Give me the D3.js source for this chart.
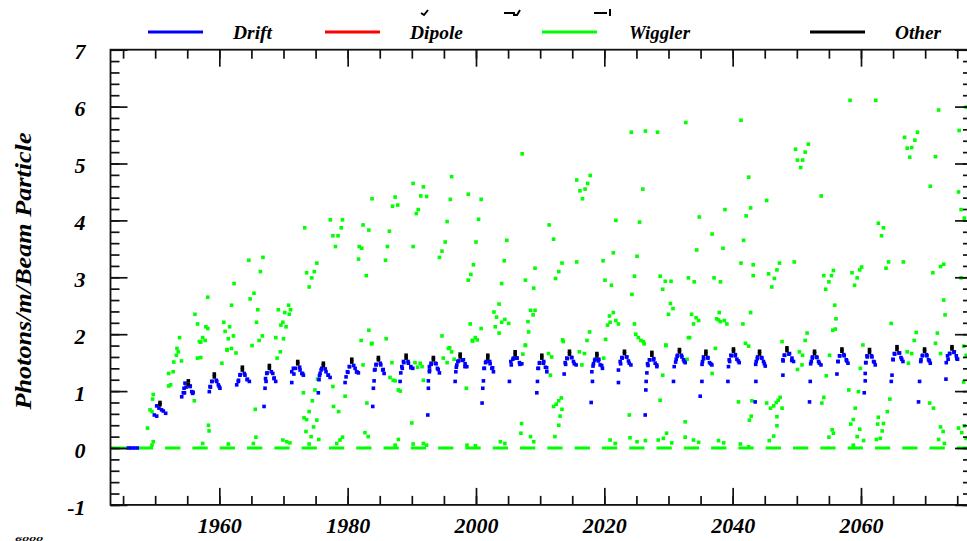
<!DOCTYPE html>
<html><head><meta charset="utf-8">
<script src="https://cdn.jsdelivr.net/npm/d3@7/dist/d3.min.js"></script>
<style>
body{margin:0;background:#fff}
svg{display:block}
text{font-family:"Liberation Serif","Times New Roman",serif;font-weight:bold;font-style:italic;fill:#000}
</style>
</head><body>
<svg id="c" width="967" height="541"></svg>
<script>
const seriesNames = ["Drift", "Dipole", "Wiggler", "Other"];
const seriesColors = ["#0000ff", "#ff0000", "#00ff00", "#000000"];
const xMajorTicks = [1960, 1980, 2000, 2020, 2040, 2060];
const yMajorTicks = [-1, 0, 1, 2, 3, 4, 5, 6, 7];
const yTitle = "Photons/m/Beam Particle";
const xDomain = [1943.04, 2077.3];
const yDomain = [-1, 7];

const dipolePts = [];

const driftPts = [
[1945.8,0],[1946.2,0],[1946.7,0],[1947.2,0],
[1950.24,0.74],[1950.6,0.70],[1951.0,0.67],[1951.27,0.65],[1951.64,0.61],[1949.87,0.58],[1950.24,0.56],
[1954.65,1.14],[1954.5,1.05],[1955.43,1.08],[1955.7,0.99],[1955.85,0.96],[1954.14,0.90],[1954.39,0.97],
[1958.82,1.17],[1959.6,1.17],[1959.84,1.11],[1960.1,1.05],[1958.55,1.08],[1958.44,0.99],
[1963.23,1.28],[1964.0,1.28],[1964.37,1.21],[1964.68,1.17],[1962.71,1.11],[1962.96,1.17],
[1967.39,1.31],[1968.33,1.31],[1968.53,1.22],[1968.79,1.17],[1967.28,1.17],[1967.12,1.05],[1966.97,0.73],
[1971.54,1.40],[1971.29,1.34],[1972.58,1.37],[1972.85,1.31],[1973.1,1.28],[1971.29,1.15],
[1975.96,1.40],[1975.7,1.31],[1976.63,1.34],[1976.99,1.28],[1977.26,1.24],[1975.54,1.20],[1975.43,0.97],
[1980.27,1.43],[1979.96,1.34],[1981.16,1.40],[1981.42,1.34],[1981.67,1.32],[1979.75,1.25],[1979.6,1.15],
[1984.43,1.46],[1984.27,1.38],[1985.16,1.46],[1985.47,1.37],[1985.68,1.31],[1984.12,1.18],[1984.01,1.05],[1983.91,0.73],
[1988.69,1.52],[1988.44,1.43],[1989.47,1.49],[1989.84,1.43],[1990.15,1.40],[1988.28,1.32],[1988.17,1.17],
[1993.0,1.49],[1992.74,1.43],[1993.78,1.48],[1993.99,1.40],[1994.3,1.32],[1992.74,1.34],[1992.58,1.18],[1992.58,1.05],[1992.49,0.58],
[1997.26,1.53],[1997.01,1.46],[1998.04,1.55],[1998.3,1.48],[1998.57,1.43],[1996.86,1.34],[1996.75,1.17],
[2001.58,1.52],[2001.31,1.40],[2002.2,1.48],[2002.47,1.40],[2002.72,1.34],[2001.16,1.18],[2001.06,1.05],[2000.95,0.79],
[2005.84,1.58],[2005.43,1.52],[2006.36,1.58],[2006.77,1.50],[2007.14,1.48],[2005.21,1.17],
[2009.89,1.49],[2009.73,1.40],[2010.51,1.49],[2010.82,1.42],[2011.04,1.34],[2009.58,1.17],[2009.48,0.97],
[2014.16,1.58],[2013.9,1.50],[2014.94,1.59],[2015.19,1.52],[2015.61,1.46],[2013.74,1.30],
[2018.57,1.56],[2018.31,1.48],[2019.09,1.53],[2019.35,1.46],[2019.71,1.40],[2018.06,1.34],[2018.15,1.17],[2017.95,0.80],
[2022.73,1.59],[2022.47,1.52],[2023.51,1.60],[2023.76,1.53],[2024.14,1.46],[2022.2,1.37],[2022.2,1.15],
[2027.04,1.55],[2026.73,1.48],[2027.66,1.55],[2027.93,1.49],[2028.19,1.43],[2026.63,1.32],[2026.52,1.17],[2026.47,1.02],[2026.37,0.58],
[2031.4,1.63],[2031.2,1.56],[2032.09,1.60],[2032.34,1.55],[2032.6,1.50],[2030.89,1.43],[2030.78,1.17],
[2035.46,1.60],[2035.3,1.52],[2036.14,1.58],[2036.39,1.50],[2036.76,1.46],[2035.21,1.17],[2034.94,0.91],
[2039.73,1.63],[2039.46,1.55],[2040.4,1.62],[2040.66,1.56],[2041.02,1.50],[2039.35,1.43],[2039.26,1.17],
[2043.88,1.60],[2043.67,1.52],[2044.56,1.58],[2044.81,1.52],[2045.08,1.44],[2043.62,1.17],[2043.51,0.81],
[2048.04,1.63],[2047.83,1.55],[2048.86,1.66],[2049.24,1.58],[2049.49,1.52],[2047.83,1.28],
[2052.45,1.60],[2052.25,1.52],[2053.13,1.59],[2053.38,1.52],[2053.76,1.46],[2052.09,1.17],[2051.98,0.81],
[2056.66,1.62],[2056.41,1.52],[2057.39,1.62],[2057.7,1.55],[2057.97,1.49],[2056.25,1.30],
[2060.93,1.62],[2060.77,1.50],[2061.71,1.60],[2061.96,1.52],[2062.22,1.46],[2060.66,1.31],[2060.66,1.18],[2060.51,0.97],
[2065.19,1.66],[2064.98,1.56],[2066.01,1.67],[2066.23,1.59],[2066.54,1.52],[2064.83,1.28],[2064.72,1.17],
[2069.6,1.63],[2069.35,1.55],[2070.28,1.62],[2070.53,1.55],[2070.8,1.49],[2069.13,1.17],[2068.97,0.81],
[2073.8,1.66],[2073.49,1.62],[2074.54,1.69],[2074.85,1.62],[2075.05,1.56],[2073.29,1.50],[2073.24,1.21],
[1954.82,1.07],[1955.47,1.09],[1955.92,0.98],[1954.57,0.97],
[1958.87,1.17],[1959.52,1.19],[1959.97,1.08],[1958.62,1.07],
[1963.24,1.29],[1963.89,1.31],[1964.34,1.20],[1962.99,1.19],
[1967.45,1.32],[1968.1,1.34],[1968.55,1.23],[1967.2,1.22],
[1971.87,1.40],[1972.52,1.42],[1972.97,1.31],[1971.62,1.30],
[1975.86,1.37],[1976.51,1.39],[1976.96,1.28],[1975.61,1.27],
[1980.29,1.43],[1980.94,1.45],[1981.39,1.34],[1980.04,1.33],
[1984.44,1.47],[1985.09,1.49],[1985.54,1.38],[1984.19,1.37],
[1988.76,1.50],[1989.41,1.52],[1989.86,1.41],[1988.51,1.40],
[1993.01,1.47],[1993.66,1.49],[1994.11,1.38],[1992.76,1.37],
[1997.18,1.52],[1997.83,1.54],[1998.28,1.43],[1996.93,1.42],
[2001.49,1.50],[2002.14,1.52],[2002.59,1.41],[2001.24,1.40],
[2005.75,1.56],[2006.4,1.58],[2006.85,1.47],[2005.5,1.46],
[2009.91,1.50],[2010.56,1.52],[2011.01,1.41],[2009.66,1.40],
[2014.22,1.57],[2014.87,1.59],[2015.32,1.48],[2013.97,1.47],
[2018.49,1.54],[2019.14,1.56],[2019.59,1.45],[2018.24,1.44],
[2022.79,1.58],[2023.44,1.60],[2023.89,1.49],[2022.54,1.48],
[2027.06,1.55],[2027.71,1.57],[2028.16,1.46],[2026.81,1.45],
[2031.36,1.61],[2032.01,1.63],[2032.46,1.52],[2031.11,1.51],
[2035.48,1.57],[2036.13,1.59],[2036.58,1.48],[2035.23,1.47],
[2039.78,1.62],[2040.43,1.64],[2040.88,1.53],[2039.53,1.52],
[2043.84,1.57],[2044.49,1.59],[2044.94,1.48],[2043.59,1.47],
[2048.11,1.63],[2048.76,1.65],[2049.21,1.54],[2047.86,1.53],
[2052.41,1.58],[2053.06,1.60],[2053.51,1.49],[2052.16,1.48],
[2056.68,1.62],[2057.33,1.64],[2057.78,1.53],[2056.43,1.52],
[2060.98,1.60],[2061.63,1.62],[2062.08,1.51],[2060.73,1.50],
[2065.26,1.65],[2065.91,1.67],[2066.36,1.56],[2065.01,1.55],
[2069.56,1.62],[2070.21,1.64],[2070.66,1.53],[2069.31,1.52],
[2073.83,1.66],[2074.48,1.68],[2074.93,1.57],[2073.58,1.56]
];

const otherPts = [
[1950.75,0.80],[1950.75,0.76],
[1955.17,1.18],[1955.17,1.12],
[1959.22,1.30],[1959.22,1.25],
[1963.59,1.42],[1963.59,1.37],
[1967.8,1.45],[1967.8,1.40],
[1972.22,1.52],[1972.22,1.48],
[1976.21,1.49],[1976.21,1.45],
[1980.64,1.56],[1980.64,1.51],
[1984.79,1.59],[1984.79,1.55],
[1989.11,1.63],[1989.11,1.58],
[1993.36,1.59],[1993.36,1.55],
[1997.53,1.65],[1997.53,1.60],
[2001.84,1.63],[2001.84,1.58],
[2006.1,1.69],[2006.1,1.64],
[2010.26,1.63],[2010.26,1.58],
[2014.57,1.70],[2014.57,1.65],
[2018.84,1.66],[2018.84,1.62],
[2023.14,1.70],[2023.14,1.66],
[2027.41,1.68],[2027.41,1.63],
[2031.71,1.73],[2031.71,1.69],
[2035.83,1.70],[2035.83,1.65],
[2040.13,1.74],[2040.13,1.70],
[2044.19,1.70],[2044.19,1.65],
[2048.46,1.76],[2048.46,1.71],
[2052.76,1.70],[2052.76,1.66],
[2057.03,1.74],[2057.03,1.70],
[2061.33,1.73],[2061.33,1.68],
[2065.61,1.78],[2065.61,1.73],
[2069.91,1.74],[2069.91,1.70],
[2074.18,1.78],[2074.18,1.74]
];

const wigglerPts = [
[1983.8,4.38],[1987.4,4.41],[1987.0,4.25],[1987.8,4.27],[1977.3,4.01],[1979.2,4.01],[1973.3,3.87],[1979.0,3.87],[1982.4,3.92],[1983.3,3.83],[1986.5,3.81],[1977.7,3.73],[1978.5,3.73],[1978.1,3.54],[1981.8,3.54],[1982.2,3.51],[1986.2,3.54],[1981.7,3.32],[1985.9,3.30],[1964.6,3.30],[1966.8,3.35],[1966.4,3.10],[1975.2,3.25],[1973.6,3.08],[1974.8,3.10],[1974.4,2.99],[1982.9,3.03],[1974.0,2.83],[1962.3,2.89],[1965.4,2.72],[1964.8,2.62],[1958.2,2.65],[1961.9,2.51],[1966.0,2.43],[1969.2,2.43],[1970.8,2.51],[1971.1,2.43],[1970.9,2.35],[1970.2,2.38],[1956.2,2.35],[1956.6,2.18],[1957.9,2.13],[1958.2,2.10],[1960.7,2.21],[1961.6,2.13],[1960.9,2.05],[1965.8,2.21],[1969.9,2.21],[1969.6,2.16],[1970.4,2.13],[1953.8,1.94],[1957.4,1.94],[1957.1,1.86],[1957.8,1.89],[1961.4,1.92],[1962.2,1.97],[1966.7,1.97],[1966.2,1.89],[1965.1,1.80],[1968.8,1.94],[1970.0,1.92],[1953.4,1.75],[1961.9,1.75],[1961.2,1.73],[1983.3,2.07],[1982.1,1.89],[1983.7,1.83],[1986.0,1.92],
[1953.6,1.69],[1953.3,1.63],[1952.9,1.51],[1954.1,1.53],[1952.1,1.31],[1952.8,1.34],[1952.4,1.11],[1952.1,1.09],[1949.7,0.94],[1949.6,0.86],[1949.2,0.67],[1949.5,0.64],[1948.8,0.35],[1949.7,0.11],[1949.5,0.05],[1956.1,0.83],[1958.3,0.40],[1958.4,0.30],[1957.4,0.08],[1956.9,1.87],[1956.6,1.58],[1957.1,1.59],[1960.4,1.49],[1961.2,1.72],[1962.6,1.67],[1961.4,0.07],[1965.6,0.68],[1965.7,0.19],[1965.3,0.08],[1969.0,1.58],[1969.5,1.69],[1969.9,0.14],[1970.5,0.11],[1971.0,0.09],[1973.1,0.97],[1974.9,1.02],[1974.5,0.83],[1974.0,0.64],[1973.2,0.53],[1973.6,0.50],[1975.2,0.49],[1974.7,0.37],[1973.5,0.29],[1974.3,0.20],[1975.5,0.15],[1974.0,0.07],[1975.3,1.21],[1977.7,1.08],[1977.8,0.73],[1978.6,0.64],[1979.6,0.91],[1978.3,0.08],[1978.8,0.14],[1979.2,0.19],
[1983.8,1.84],[1982.4,1.46],[1983.0,0.79],[1982.7,0.27],[1983.2,0.20],[1986.9,1.50],[1986.6,1.24],[1987.1,1.19],[1987.4,1.18],[1987.9,1.02],[1988.2,1.00],[1987.9,0.15],[1987.4,0.05],[1990.0,0.44],[1990.2,0.07],[1990.5,1.50],[1991.3,1.49],[1991.6,1.43],[1990.9,1.42],[1991.8,1.19],[1991.8,0.08],[1992.3,0.05],[1995.7,1.75],[1996.2,1.69],[1994.9,1.58],[1995.5,1.50],[1996.6,1.56],[1998.5,1.05],[1998.6,0.05],[1999.9,0.04],[1999.5,1.88],[2000.2,1.90],[2003.8,0.11],[2004.5,0.08],[2007.1,0.43],[2007.0,0.26],[2008.5,0.20],[2009.0,0.11],[2007.3,1.65],[2007.7,1.81],[2011.6,1.28],[2011.3,1.66],[2011.8,1.60],[2012.1,0.73],[2012.5,0.77],[2012.9,0.83],[2013.3,0.88],[2013.4,0.68],[2013.1,0.56],[2012.9,0.40],[2012.3,0.20],[2013.5,1.90],[2016.1,1.69],[2016.9,1.66],[2016.5,1.46],[2019.9,1.58],[2020.9,0.14],[2021.7,0.08],[2023.9,0.58],[2024.0,0.18],[2025.1,0.11],[2026.4,0.13],[2026.1,1.87],[2028.7,0.84],[2028.4,0.14],
[2033.9,2.18],[2037.8,2.25],[2039.1,2.18],[2041.6,2.18],[2033.3,1.94],[2029.6,1.81],[2032.9,1.56],[2037.3,1.75],[2029.1,1.28],[2036.8,1.31],[2032.6,0.46],[2032.6,0.19],[2029.7,0.26],[2029.2,0.17],[2030.5,0.09],[2033.9,0.14],[2034.7,0.10],[2037.8,0.13],[2038.6,0.09],[2040.9,0.81],[2043.0,0.83],[2042.9,0.56],[2042.6,0.49],[2041.2,0.07],[2042.5,0.02],[2042.0,1.84],[2042.5,1.79],[2047.7,1.87],[2045.3,0.79],[2045.9,0.70],[2046.4,0.74],[2046.8,0.80],[2047.1,0.84],[2047.4,0.89],[2047.7,0.70],[2046.9,0.55],[2046.9,0.39],[2046.4,0.21],[2045.7,0.13],[2051.3,1.89],[2051.6,2.02],[2050.4,1.69],[2050.9,1.63],[2050.8,1.46],[2050.1,1.38],[2055.1,1.63],[2056.0,2.09],[2054.6,1.27],[2054.2,0.89],[2053.9,0.79],[2055.5,0.32],[2055.7,0.26],[2055.0,0.19],[2058.1,1.02],[2059.6,0.99],[2060.3,1.81],[2059.9,1.40],[2059.1,0.70],[2058.8,0.50],[2058.4,0.42],[2059.8,0.33],[2059.4,0.20],[2060.4,0.13],[2058.8,0.05],[2062.7,0.54],[2064.1,0.64],[2064.5,0.86],[2062.6,0.42],[2063.5,0.43],[2063.3,0.30],[2062.4,0.15],[2063.0,0.17],[2064.7,2.19],[2067.2,1.69],[2067.9,1.66],[2067.4,1.49],[2068.6,2.03],[2071.6,1.84],[2071.9,2.02],[2072.4,1.66],[2070.7,0.79],[2071.3,0.70],[2072.4,0.37],[2072.8,0.29],[2072.1,0.15],[2073.0,0.08],[2076.4,1.63],[2076.0,1.16],[2075.2,0.35],[2076.1,0.39],[2076.4,0.17],[2075.7,0.27],
[1990.2,4.65],[1991.8,4.59],[1996.2,4.77],[1991.4,4.43],[1992.3,4.42],[1996.0,4.37],[1991.0,4.19],[1990.7,4.12],[1998.8,4.46],[2000.8,4.37],[2007.2,5.17],[1995.5,3.98],[2000.4,4.02],[1990.2,3.54],[1995.2,3.62],[1994.7,3.46],[1994.3,3.35],[2000.0,3.62],[2004.8,3.65],[2004.4,3.29],[1999.6,3.22],[1999.2,3.05],[1998.8,2.95],[2004.0,2.89],[2007.7,2.95],[2009.2,3.16],[2009.0,2.81],[2011.4,3.92],[2012.1,3.67],[2013.4,3.25],[2012.9,3.10],[2012.4,2.98],[2015.7,4.71],[2017.8,4.79],[2017.4,4.65],[2016.2,4.52],[2017.0,4.55],[2016.6,4.38],[2015.7,3.27],[2024.2,5.55],[2026.4,5.57],[2028.3,5.55],[2032.7,5.72],[2026.0,4.55],[2021.8,4.00],[2025.5,3.97],[2021.4,3.43],[2019.8,3.29],[2025.1,3.37],[2020.1,2.95],[2021.1,2.86],[2024.7,3.02],[2024.3,2.70],[2028.7,3.02],[2029.5,2.93],[2030.4,2.93],[2029.1,2.79],[2033.1,2.99],[2003.6,2.53],[2002.8,2.39],[2003.2,2.30],[2004.0,2.21],[2004.5,2.26],[2005.1,2.19],[2003.0,2.13],[2003.6,2.02],[1999.1,2.18],[2000.8,2.10],[1994.7,1.97],[1995.9,1.76],[1999.9,1.94],[1999.4,1.89],[2008.5,2.42],[2009.2,2.42],[2008.9,2.34],[2008.1,2.22],[2008.2,2.04],[2007.7,1.80],[2013.6,1.87],[2017.7,2.04],[2017.3,1.89],[2021.4,2.38],[2020.8,2.32],[2021.8,2.24],[2022.2,2.18],[2020.9,2.21],[2020.5,2.16],[2020.2,1.91],[2024.7,2.18],[2024.9,2.00],[2025.3,1.94],[2025.7,1.89],[2026.2,1.83],[2029.6,1.80],[2030.3,2.54],[2030.7,2.45],[2030.0,2.35],[2033.1,1.94],
[2041.3,5.76],[2058.3,6.11],[2062.3,6.11],[2072.1,5.94],[2076.4,5.99],[2075.3,5.58],[2049.8,5.25],[2051.8,5.34],[2051.3,5.20],[2050.1,5.06],[2050.9,5.06],[2050.6,4.93],[2042.5,4.76],[2066.8,5.46],[2068.8,5.55],[2068.4,5.41],[2067.2,5.27],[2067.9,5.28],[2067.6,5.11],[2071.6,5.12],[2070.8,4.60],[2053.8,4.43],[2045.3,4.35],[2042.8,4.22],[2042.1,4.08],[2038.8,4.19],[2034.8,4.06],[2036.8,3.76],[2041.7,3.65],[2038.5,3.51],[2034.4,3.48],[2062.7,3.95],[2063.5,3.87],[2063.2,3.73],[2075.2,4.50],[2075.6,4.19],[2076.1,4.04],[2041.3,3.25],[2043.2,3.22],[2047.3,3.25],[2046.9,3.13],[2049.6,3.27],[2043.2,3.03],[2045.6,3.06],[2046.5,2.98],[2046.1,2.83],[2034.0,2.92],[2037.1,2.99],[2038.1,2.92],[2054.2,3.03],[2055.7,3.12],[2055.4,3.03],[2055.0,2.92],[2054.5,2.79],[2058.6,3.08],[2060.1,3.18],[2059.8,3.13],[2059.4,2.99],[2059.0,2.86],[2064.3,3.27],[2063.9,3.16],[2066.6,3.27],[2071.2,3.08],[2072.4,3.19],[2072.9,3.23],[2075.6,2.99],[2055.9,2.51],[2056.1,2.27],[2055.6,2.07],[2068.3,1.89],[2072.9,2.60],[2073.1,2.34],[2033.6,2.35],[2034.3,2.29],[2034.7,2.24],[2037.5,2.27],[2038.1,2.22],[2038.7,2.24],[2037.9,2.38],[2042.8,2.38],[2076.0,1.79]
];

const svg = d3.select("#c");
const plot = {left: 110.5, right: 972, top: 49.7, bottom: 504.9};
const x = d3.scaleLinear().domain(xDomain).range([plot.left, plot.right]);
const y = d3.scaleLinear().domain(yDomain).range([plot.bottom, plot.top]);

// wiggler zero baseline (dense points drawn as dashes)
svg.append("line")
  .attr("x1", x(xDomain[0])).attr("x2", x(xDomain[1]))
  .attr("y1", y(0)).attr("y2", y(0))
  .attr("stroke", seriesColors[2]).attr("stroke-width", 3)
  .attr("stroke-dasharray", "15.3 12");

const ps = 3.6;
function drawPts(data, color) {
  svg.append("g").selectAll("rect").data(data).join("rect")
    .attr("x", d => x(d[0]) - ps / 2).attr("y", d => y(d[1]) - ps / 2)
    .attr("width", ps).attr("height", ps)
    .attr("fill", color);
}
drawPts(wigglerPts, seriesColors[2]);
drawPts(dipolePts, seriesColors[1]);
drawPts(driftPts, seriesColors[0]);
drawPts(otherPts, seriesColors[3]);

// axes
const minorX = d3.range(1945, 2080, 5);
const minorY = d3.range(-1, 7.001, 0.2).map(v => +v.toFixed(1));
const axStroke = "#111";
const fmt = d => String(d);

function styleAxis(g) {
  g.select(".domain").remove();
  g.selectAll(".tick line").attr("stroke", axStroke).attr("stroke-width", 1.7);
  g.selectAll("text").style("font-size", "22px").attr("fill", "#000");
}
// bottom
svg.append("g").attr("transform", `translate(0,${plot.bottom})`)
  .call(d3.axisBottom(x).tickValues(minorX).tickSize(-9).tickFormat("")).call(styleAxis);
svg.append("g").attr("transform", `translate(0,${plot.bottom})`)
  .call(d3.axisBottom(x).tickValues(xMajorTicks).tickSize(-17).tickPadding(12.5).tickFormat(fmt)).call(styleAxis);
// top
svg.append("g").attr("transform", `translate(0,${plot.top})`)
  .call(d3.axisTop(x).tickValues(minorX).tickSize(-9).tickFormat("")).call(styleAxis);
svg.append("g").attr("transform", `translate(0,${plot.top})`)
  .call(d3.axisTop(x).tickValues(xMajorTicks).tickSize(-17).tickFormat("")).call(styleAxis);
// left
svg.append("g").attr("transform", `translate(${plot.left},0)`)
  .call(d3.axisLeft(y).tickValues(minorY).tickSize(-9).tickFormat("")).call(styleAxis);
svg.append("g").attr("transform", `translate(${plot.left},0)`)
  .call(d3.axisLeft(y).tickValues(yMajorTicks).tickSize(-17).tickPadding(25).tickFormat(fmt)).call(styleAxis)
  .selectAll("text").attr("dy", "0.42em");
// right
svg.append("g").attr("transform", `translate(${plot.right},0)`)
  .call(d3.axisRight(y).tickValues(minorY).tickSize(-9).tickFormat("")).call(styleAxis);
svg.append("g").attr("transform", `translate(${plot.right},0)`)
  .call(d3.axisRight(y).tickValues(yMajorTicks).tickSize(-17).tickFormat("")).call(styleAxis);

// frame
svg.append("rect").attr("x", plot.left).attr("y", plot.top)
  .attr("width", plot.right - plot.left).attr("height", plot.bottom - plot.top)
  .attr("fill", "none").attr("stroke", axStroke).attr("stroke-width", 1.8);

// y title
svg.append("text").attr("transform", "translate(31,271) rotate(-90)")
  .attr("text-anchor", "middle").style("font-size", "23px")
  .attr("textLength", 277).attr("lengthAdjust", "spacingAndGlyphs")
  .text(yTitle);

// legend
const legendLineX = [148, 325, 542, 810];
const legendTextX = [233, 410, 629, 895];
const legendTextW = [39, 53, 61, 46];
const lg = svg.append("g");
seriesNames.forEach((n, i) => {
  lg.append("line").attr("x1", legendLineX[i]).attr("x2", legendLineX[i] + 55)
    .attr("y1", 32).attr("y2", 32).attr("stroke", seriesColors[i]).attr("stroke-width", 3);
  lg.append("text").attr("x", legendTextX[i]).attr("y", 39).style("font-size", "19px")
    .attr("textLength", legendTextW[i]).attr("lengthAdjust", "spacingAndGlyphs").text(n);
});

// fragments of title text cut off at top
const frag = svg.append("g").attr("fill", "none").attr("stroke", "#000").attr("stroke-width", 2);
frag.append("path").attr("d", "M421,13 L424,15 L428,10");
frag.append("path").attr("d", "M504,13 L515,13 M513,15 L517,15 L520,10");
frag.append("path").attr("d", "M594,13 L607,13 M610,9 L610,16");

// fragment of lower chart label (kept fully inside the picture)
svg.append("text").attr("x", 15).attr("y", 540.5).style("font-size", "7px")
  .attr("textLength", 28).attr("lengthAdjust", "spacingAndGlyphs").text("6000");
</script>
</body></html>
